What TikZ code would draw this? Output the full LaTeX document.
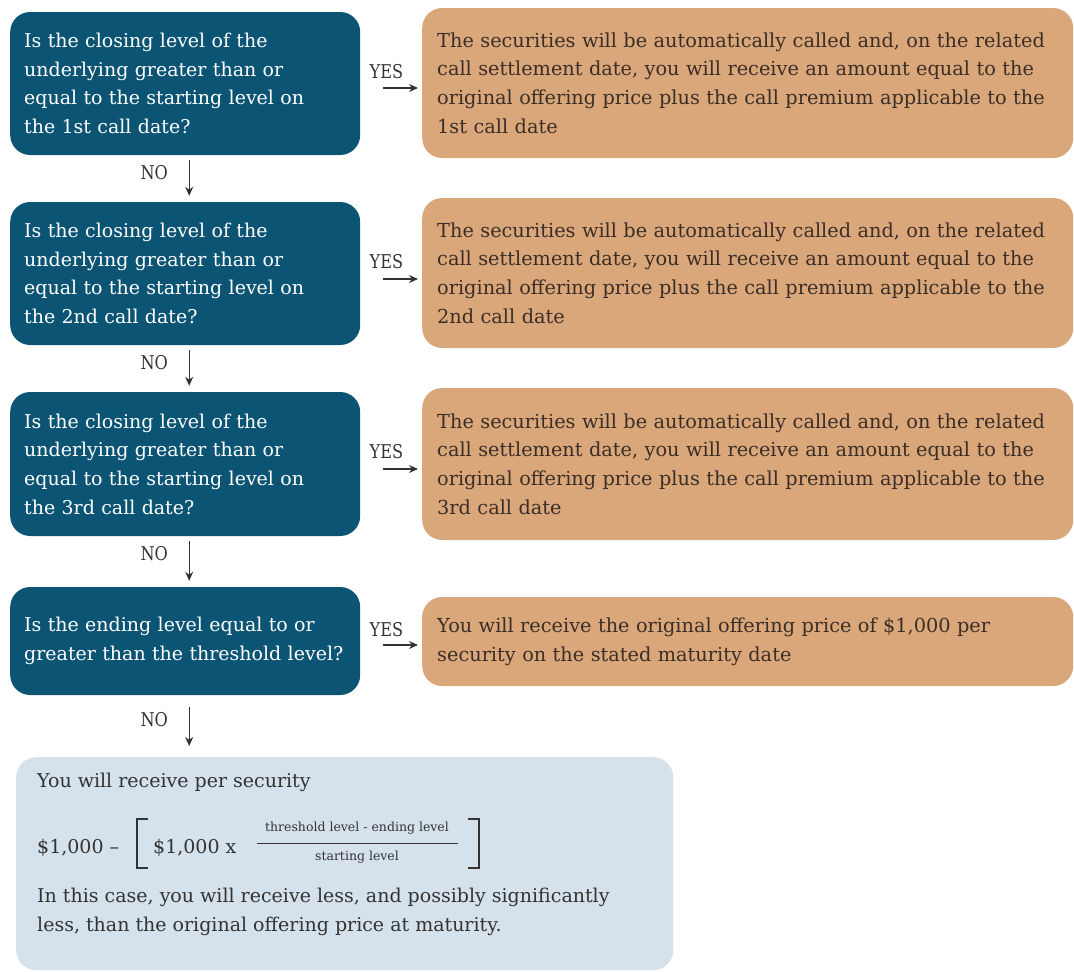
\documentclass[tikz,border=0pt]{standalone}
\usepackage{fontspec}
\setmainfont{DejaVu Serif}
\usetikzlibrary{arrows.meta,calc}
\definecolor{qblue}{HTML}{0C5474}
\definecolor{ans}{HTML}{DAA77B}
\definecolor{endc}{HTML}{D6E2EB}
\definecolor{ink}{HTML}{3B2E26}
\definecolor{gray1}{HTML}{333333}
\begin{document}
\begin{tikzpicture}[x=1pt,y=-1pt,
  qbox/.style={font=\fontsize{19}{28.7}\selectfont, fill=qblue, rounded corners=20pt, text=white, anchor=west,
    minimum width=350pt, text width=322pt, inner xsep=14pt, align=left},
  abox/.style={font=\fontsize{19.3}{28.7}\selectfont, fill=ans, rounded corners=20pt, text=ink, anchor=west,
    minimum width=651pt, text width=621pt, inner xsep=15pt, align=left},
  lab/.style={text=gray1, font=\fontsize{19}{20}\selectfont, inner sep=0pt},
  arr/.style={-{Stealth[length=9pt,width=8pt]}, line width=1.2pt, gray1},
  endbox/.style={fill=endc, rounded corners=20pt, anchor=north west,
    minimum width=657pt, minimum height=213pt, inner sep=0pt},
  endtxt/.style={font=\fontsize{19}{28.7}\selectfont, text=gray1, anchor=west, inner sep=0pt, align=left},
  fracnum/.style={font=\fontsize{12.5}{14}\selectfont, text=gray1, inner sep=0pt},
  brk/.style={line width=2.2pt, gray1}]
\useasboundingbox (0,0) rectangle (1074,972);

\node[qbox, minimum height=143pt] (q1) at (10,83.5) {Is the closing level of the\\ underlying greater than or\\ equal to the starting level on\\ the 1st call date?};
\node[abox, minimum height=150pt] (a1) at (422,83) {The securities will be automatically called and, on the related\\ call settlement date, you will receive an amount equal to the\\ original offering price plus the call premium applicable to the\\ 1st call date};

\node[qbox, minimum height=143pt] (q2) at (10,273.5) {Is the closing level of the\\ underlying greater than or\\ equal to the starting level on\\ the 2nd call date?};
\node[abox, minimum height=150pt] (a2) at (422,273) {The securities will be automatically called and, on the related\\ call settlement date, you will receive an amount equal to the\\ original offering price plus the call premium applicable to the\\ 2nd call date};

\node[qbox, minimum height=144pt] (q3) at (10,464) {Is the closing level of the\\ underlying greater than or\\ equal to the starting level on\\ the 3rd call date?};
\node[abox, minimum height=152pt] (a3) at (422,464) {The securities will be automatically called and, on the related\\ call settlement date, you will receive an amount equal to the\\ original offering price plus the call premium applicable to the\\ 3rd call date};

\node[qbox, minimum height=108pt] (q4) at (10,641) {Is the ending level equal to or\\ greater than the threshold level?};
\node[abox, minimum height=89pt] (a4) at (422,641.5) {You will receive the original offering price of \$1,000 per\\ security on the stated maturity date};

\node[endbox] (fin) at (16,757) {};
\node[endtxt] (f1) at ($(fin.north west)+(21,25.5)$) {You will receive per security};
\node[endtxt] (fa) at ($(fin.north west)+(21,91)$) {\$1,000 –};
\node[endtxt] (fb) at ($(fin.north west)+(137,91)$) {\$1,000 x};
\node[fracnum] (fn) at ($(fin.north west)+(341,71)$) {threshold level - ending level};
\node[fracnum] (fd) at ($(fin.north west)+(341,100)$) {starting level};
\draw[line width=1pt, gray1] ($(fin.north west)+(241,86)$) -- ($(fin.north west)+(442,86)$);
\draw[brk] ($(fin.north west)+(132,62)$) -- ($(fin.north west)+(121,62)$) -- ($(fin.north west)+(121,111)$) -- ($(fin.north west)+(132,111)$);
\draw[brk] ($(fin.north west)+(452,62)$) -- ($(fin.north west)+(463,62)$) -- ($(fin.north west)+(463,111)$) -- ($(fin.north west)+(452,111)$);
\node[endtxt] (f3) at ($(fin.north west)+(21,155)$) {In this case, you will receive less, and possibly significantly\\ less, than the original offering price at maturity.};

% YES connectors
\draw[arr] ($(q1.east)+(23,4.5)$) -- ($(q1.east -| a1.west)+(-4,4.5)$);
\node[lab] (y1) at ($(q1.east)+(26,-11.5)$) {\scalebox{0.85}[1]{YES}};
\draw[arr] ($(q2.east)+(23,5.5)$) -- ($(q2.east -| a2.west)+(-4,5.5)$);
\node[lab] (y2) at ($(q2.east)+(26,-11.5)$) {\scalebox{0.85}[1]{YES}};
\draw[arr] ($(q3.east)+(23,5)$) -- ($(q3.east -| a3.west)+(-4,5)$);
\node[lab] (y3) at ($(q3.east)+(26,-12)$) {\scalebox{0.85}[1]{YES}};
\draw[arr] ($(q4.east)+(23,4)$) -- ($(q4.east -| a4.west)+(-4,4)$);
\node[lab] (y4) at ($(q4.east)+(26,-11)$) {\scalebox{0.85}[1]{YES}};

% NO connectors
\draw[arr] ($(q1.south)+(4,5)$) -- ($(q2.north)+(4,-6)$);
\node[lab] (n1) at ($(q1.south)+(-31,17)$) {\scalebox{0.85}[1]{NO}};
\draw[arr] ($(q2.south)+(4,5)$) -- ($(q3.north)+(4,-6)$);
\node[lab] (n2) at ($(q2.south)+(-31,17)$) {\scalebox{0.85}[1]{NO}};
\draw[arr] ($(q3.south)+(4,5)$) -- ($(q4.north)+(4,-6)$);
\node[lab] (n3) at ($(q3.south)+(-31,17)$) {\scalebox{0.85}[1]{NO}};
\draw[arr] ($(q4.south)+(4,12)$) -- ($(fin.north -| q4.south)+(4,-11)$);
\node[lab] (n4) at ($(q4.south)+(-31,24)$) {\scalebox{0.85}[1]{NO}};
\end{tikzpicture}
\end{document}
